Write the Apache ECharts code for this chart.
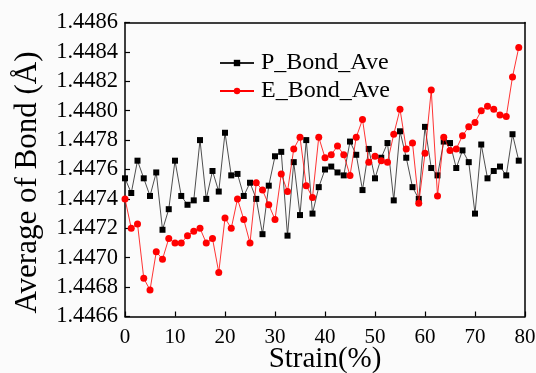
<!DOCTYPE html>
<html>
<head>
<meta charset="utf-8">
<script src="https://cdn.jsdelivr.net/npm/echarts@6/dist/echarts.min.js"></script>
<style>
html,body{margin:0;padding:0;background:#fbfbfb;}
#c{width:536px;height:373px;}
</style>
</head>
<body>
<div id="c"></div>
<script>
const strain = [0,1.25,2.5,3.75,5,6.25,7.5,8.75,10,11.25,12.5,13.75,15,16.25,17.5,18.75,
20,21.25,22.5,23.75,25,26.25,27.5,28.75,30,31.25,32.5,33.75,35,36.25,37.5,38.75,
40,41.25,42.5,43.75,45,46.25,47.5,48.75,50,51.25,52.5,53.75,55,56.25,57.5,58.75,
60,61.25,62.5,63.75,65,66.25,67.5,68.75,70,71.25,72.5,73.75,75,76.25,77.5,78.75];

const pBond = [1.44754,1.44744,1.44766,1.44754,1.44742,1.44758,1.44719,1.44733,
1.44766,1.44742,1.44736,1.44739,1.44780,1.44740,1.44759,1.44745,
1.44785,1.44756,1.44757,1.44742,1.44751,1.44740,1.44716,1.44749,
1.44769,1.44772,1.44715,1.44765,1.44729,1.44780,1.44730,1.44748,
1.44760,1.44762,1.44758,1.44756,1.44779,1.44770,1.44746,1.44774,
1.44754,1.44768,1.44778,1.44739,1.44786,1.44768,1.44748,1.44740,
1.44789,1.44761,1.44756,1.44779,1.44778,1.44761,1.44773,1.44765,
1.44730,1.44777,1.44754,1.44759,1.44762,1.44756,1.44784,1.44766];

const eBond = [1.44740,1.44720,1.44723,1.44686,1.44678,1.44704,1.44699,1.44713,
1.44710,1.44710,1.44715,1.44718,1.44720,1.44710,1.44713,1.44690,
1.44727,1.44720,1.44740,1.44726,1.44710,1.44751,1.44746,1.44736,
1.44726,1.44757,1.44745,1.44774,1.44782,1.44749,1.44741,1.44782,
1.44768,1.44770,1.44776,1.44770,1.44756,1.44782,1.44794,1.44765,
1.44769,1.44766,1.44765,1.44784,1.44801,1.44774,1.44778,1.44737,
1.44771,1.44814,1.44742,1.44782,1.44773,1.44774,1.44783,1.44789,
1.44792,1.44800,1.44803,1.44801,1.44797,1.44796,1.44823,1.44843];

const seriesNames = ['P_Bond_Ave','E_Bond_Ave'];
const xTitle = 'Strain(%)';
const yTitle = 'Average of Bond (Å)';

const FONT = 'Liberation Serif';
const chart = echarts.init(document.getElementById('c'), null, {renderer:'canvas'});
const pairs = arr => strain.map((x,i)=>[x, arr[i]]);

chart.setOption({
  backgroundColor:'#fbfbfb',
  animation:false,
  grid:{left:125, right:11, top:22.5, bottom:56.5, show:false, containLabel:false, outerBoundsMode:'none'},
  legend:{
    orient:'vertical', left:214, top:46,
    itemWidth:34, itemHeight:8, itemGap:4,
    textStyle:{fontFamily:FONT, fontSize:24, color:'#000', lineHeight:24, padding:[0,0,0,2]},
    data:seriesNames
  },
  xAxis:[{
    type:'value', min:0, max:80, interval:10,
    name:xTitle, nameLocation:'middle', nameGap:28, nameMoveOverlap:false,
    nameTextStyle:{fontFamily:FONT, fontSize:29, color:'#000'},
    axisLine:{show:true, lineStyle:{color:'#000', width:1.5}},
    axisTick:{show:true, inside:true, length:5, lineStyle:{color:'#000', width:1.2}},
    axisLabel:{fontFamily:FONT, fontSize:21, color:'#000', margin:10},
    splitLine:{show:false}
  },{
    type:'value', min:0, max:80, position:'top',
    axisLine:{show:true, onZero:false, lineStyle:{color:'#000', width:1.5}},
    axisTick:{show:false}, axisLabel:{show:false}, splitLine:{show:false}
  }],
  yAxis:[{
    type:'value', min:1.4466, max:1.4486, interval:0.0002,
    name:yTitle, nameLocation:'middle', nameGap:82, nameMoveOverlap:false,
    nameTextStyle:{fontFamily:FONT, fontSize:31, color:'#000', padding:[0,26,0,0]},
    axisLine:{show:true, lineStyle:{color:'#000', width:1.5}},
    axisTick:{show:true, inside:true, length:5, lineStyle:{color:'#000', width:1.2}},
    axisLabel:{fontFamily:FONT, fontSize:22.5, color:'#000', margin:7,
      formatter:v=>v.toFixed(4)},
    splitLine:{show:false}
  },{
    type:'value', min:1.4466, max:1.4486, position:'right',
    axisLine:{show:true, onZero:false, lineStyle:{color:'#000', width:1.5}},
    axisTick:{show:false}, axisLabel:{show:false}, splitLine:{show:false}
  }],
  series:[{
    name:seriesNames[0], type:'line', data:pairs(pBond),
    symbol:'rect', symbolSize:6,
    lineStyle:{color:'#222', width:0.8},
    itemStyle:{color:'#000'}, z:2
  },{
    name:seriesNames[1], type:'line', data:pairs(eBond),
    symbol:'circle', symbolSize:7,
    lineStyle:{color:'#ff0000', width:0.8},
    itemStyle:{color:'#ff0000'}, z:3
  }]
});
</script>
</body>
</html>
